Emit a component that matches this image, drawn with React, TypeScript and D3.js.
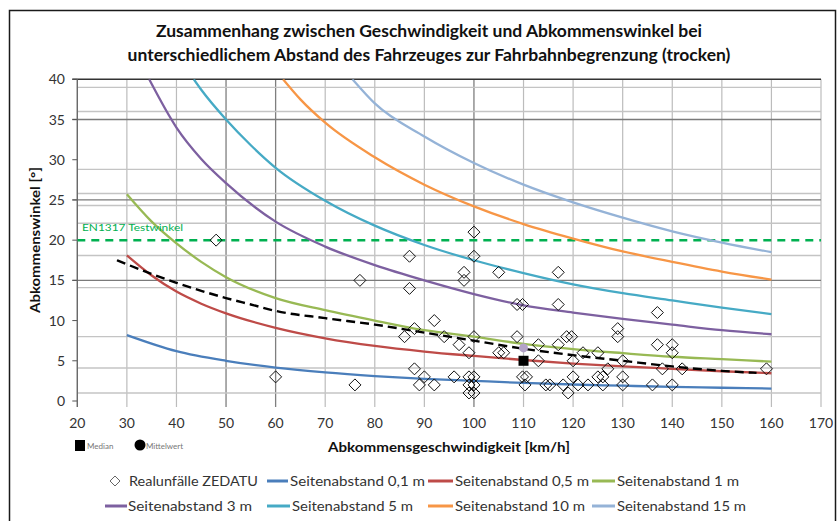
import React from "react";
import * as d3 from "d3";

// ---------- data ----------
const xTicks = [20, 30, 40, 50, 60, 70, 80, 90, 100, 110, 120, 130, 140, 150, 160, 170];
const yTicks = [0, 5, 10, 15, 20, 25, 30, 35, 40];

const hGridMajor = [40, 35, 25, 15];
const hGridMinor = [39, 36, 28.8, 25.8, 24.3, 22.1, 18.1, 14.1, 8, 4.1, 1];
const vGridMajor = [50, 60, 100];

const realunfaelle: [number, number][] = [
  [48, 20], [60, 3], [76, 2], [77, 15], [86, 8], [87, 18], [87, 14], [88, 9], [88, 4], [89, 2],
  [90, 3], [92, 10], [92, 2], [94, 8], [96, 3], [97, 7], [98, 16], [98, 15], [99, 6], [99, 3],
  [99, 2], [99, 1], [100, 21], [100, 18], [100, 8], [100, 3], [100, 2], [100, 1], [105, 16],
  [105, 6], [106, 6], [108.7, 12], [109.8, 12], [108.7, 8], [109.8, 3], [110.6, 3], [110.3, 2],
  [113, 7], [113, 5], [114.5, 2], [115.3, 2], [117, 16], [117, 12], [117, 7], [118, 2], [118.7, 8],
  [119.7, 8], [120, 5], [119, 1], [120, 3], [121, 2], [122, 6], [123, 2], [125, 6], [125, 3],
  [126, 3], [126, 2], [127, 4], [129, 9], [129, 8], [130, 5], [130, 3], [130, 2], [136, 2],
  [137, 11], [137, 7], [138, 4], [140, 7], [140, 6], [140, 2], [142, 4], [159, 4],
];

const median: [number, number] = [110, 5.0];
const mittelwert: [number, number] = [110, 6.6];

const seite01: [number, number][] = [[30, 8.2], [40, 6.2], [50, 5.0], [60, 4.15], [70, 3.55], [80, 3.1], [90, 2.75], [100, 2.5], [110, 2.25], [120, 2.05], [130, 1.9], [140, 1.75], [150, 1.65], [160, 1.55]];
const seite05: [number, number][] = [[30, 18.1], [35, 15.6], [40, 13.6], [45, 12.1], [50, 10.9], [60, 9.1], [70, 7.8], [80, 6.85], [90, 6.15], [100, 5.6], [110, 5.1], [120, 4.65], [130, 4.3], [140, 4.0], [150, 3.7], [160, 3.45]];
const seite1: [number, number][] = [[30, 25.7], [35, 22.3], [40, 19.6], [45, 17.3], [50, 15.4], [60, 12.8], [70, 11.3], [80, 10.0], [90, 8.8], [100, 8.0], [110, 7.1], [120, 6.45], [130, 5.95], [140, 5.5], [150, 5.2], [160, 4.9]];
const seite3: [number, number][] = [[34.5, 40], [40, 34], [45, 30.1], [50, 27.1], [60, 22.3], [70, 19.2], [80, 16.9], [90, 15.0], [100, 13.3], [110, 11.9], [120, 11.0], [130, 10.2], [140, 9.5], [150, 8.8], [160, 8.3]];
const seite5: [number, number][] = [[43.5, 40], [45, 38.7], [50, 35], [55, 31.8], [60, 29.0], [70, 24.9], [80, 21.8], [90, 19.4], [100, 17.5], [110, 15.9], [120, 14.5], [130, 13.4], [140, 12.5], [150, 11.6], [160, 10.8]];
const seite10: [number, number][] = [[61.5, 40], [65, 37.5], [70, 34.6], [80, 30.3], [90, 26.9], [100, 24.2], [110, 22.0], [120, 20.2], [130, 18.6], [140, 17.3], [150, 16.1], [160, 15.1]];
const seite15: [number, number][] = [[75.5, 40], [80, 37.0], [90, 32.9], [100, 29.6], [110, 26.9], [120, 24.7], [130, 22.8], [140, 21.1], [150, 19.7], [160, 18.5]];

const trend: [number, number][] = [[28, 17.5], [30, 17.0], [35, 15.8], [40, 14.7], [45, 13.7], [50, 12.8], [55, 12.0], [60, 11.2], [70, 10.3], [80, 9.5], [90, 8.5], [100, 7.5], [110, 6.5], [120, 5.7], [130, 5.0], [140, 4.3], [150, 3.75], [157, 3.5]];

const testwinkel = 20;

const seriesNames = [
  "Seitenabstand 0,1 m", "Seitenabstand 0,5 m", "Seitenabstand 1 m", "Seitenabstand 3 m",
  "Seitenabstand 5 m", "Seitenabstand 10 m", "Seitenabstand 15 m",
];
const seriesColors = ["#4a7ebb", "#be4b48", "#98b954", "#7d60a0", "#46aac5", "#f79646", "#95b3d7"];
const seriesData = [seite01, seite05, seite1, seite3, seite5, seite10, seite15];

const titleLines = [
  "Zusammenhang zwischen Geschwindigkeit und Abkommenswinkel bei",
  "unterschiedlichem Abstand des Fahrzeuges zur Fahrbahnbegrenzung (trocken)",
];

// ---------- layout ----------
const FONT = "Lato, 'Open Sans', sans-serif";
const x = d3.scaleLinear().domain([20, 170]).range([77.3, 821]);
const y = d3.scaleLinear().domain([0, 40]).range([401, 79.3]);

const line = d3
  .line<[number, number]>()
  .x((d) => x(d[0]))
  .y((d) => y(d[1]))
  .curve(d3.curveMonotoneX);

const diamond = (cx: number, cy: number, r: number) =>
  `M${cx},${cy - r}L${cx + r},${cy}L${cx},${cy + r}L${cx - r},${cy}Z`;

// legend slots: [lineStart, lineEnd, textX, textWidth, rowY]
const legendSlots = [
  [267, 288, 290, 135, 481],
  [428, 453, 455, 134, 481],
  [592, 615, 617, 122, 481],
  [105, 127, 128, 124, 506],
  [267, 290, 292, 121, 506],
  [428, 453, 455, 130, 506],
  [592, 615, 617, 129, 506],
];

export default function App() {
  const [x0, x1] = x.range();
  const [yb, yt] = y.range();
  return (
    <div style={{ position: "absolute", left: 0, top: 0 }}>
      <svg width={837} height={521} style={{ display: "block", background: "#fff" }} fontFamily={FONT}>
        <rect x={0} y={0} width={837} height={521} fill="#fff" />
        <rect x={9.5} y={10.5} width={826} height={530} fill="none" stroke="#1a1a1a" strokeWidth={1.5} />

        {/* title */}
        {titleLines.map((t, i) => (
          <text key={i} x={429} y={37 + i * 24} textAnchor="middle" fontSize={17.5} fontWeight="bold" fill="#111">
            {t}
          </text>
        ))}

        {/* grid */}
        <g>
          {xTicks.map((v) => (
            <line key={"v" + v} x1={x(v)} x2={x(v)} y1={yt} y2={yb + 6}
              stroke={vGridMajor.includes(v) ? "#7f7f7f" : "#bcbcbc"} strokeWidth={vGridMajor.includes(v) ? 1.3 : 1.2} />
          ))}
          {hGridMinor.map((v) => (
            <line key={"hm" + v} x1={x0} x2={x1} y1={y(v)} y2={y(v)} stroke="#c4c4c4" strokeWidth={1.4} />
          ))}
          {hGridMajor.map((v) => (
            <line key={"hM" + v} x1={x0 - 5} x2={x1} y1={y(v)} y2={y(v)} stroke={v === 40 ? "#333" : "#7a7a7a"} strokeWidth={v === 40 ? 1.6 : 1.3} />
          ))}
          {yTicks.map((v) => (
            <line key={"yt" + v} x1={x0 - 5} x2={x0} y1={y(v)} y2={y(v)} stroke="#555" strokeWidth={1} />
          ))}
          <line x1={x0} x2={x0} y1={yt} y2={yb + 6} stroke="#666" strokeWidth={1.3} />
        </g>

        {/* axis labels */}
        {yTicks.map((v) => (
          <text key={"yl" + v} x={65} y={y(v) + 5} textAnchor="end" fontSize={14} fill="#333">{v}</text>
        ))}
        {xTicks.map((v) => (
          <text key={"xl" + v} x={x(v)} y={428} textAnchor="middle" fontSize={14} fill="#333">{v}</text>
        ))}
        <text x={449} y={452} textAnchor="middle" fontSize={13.5} fontWeight="bold" fill="#111" textLength={242} lengthAdjust="spacingAndGlyphs">
          Abkommensgeschwindigkeit [km/h]
        </text>
        <text transform="translate(40,240) rotate(-90)" textAnchor="middle" fontSize={13} fontWeight="bold" fill="#111" textLength={146} lengthAdjust="spacingAndGlyphs">
          Abkommenswinkel [°]
        </text>

        <clipPath id="plot">
          <rect x={x0} y={yt} width={x1 - x0} height={yb - yt + 2} />
        </clipPath>

        <g clipPath="url(#plot)">
          {/* test angle */}
          <line x1={x0} x2={x1} y1={y(testwinkel)} y2={y(testwinkel)} stroke="#00b050" strokeWidth={2.5} strokeDasharray="8,6" />
          {seriesData.map((d, i) => (
            <path key={i} d={line(d) || ""} fill="none" stroke={seriesColors[i]} strokeWidth={2.3} />
          ))}
          <path d={line(trend) || ""} fill="none" stroke="#000" strokeWidth={2.4} strokeDasharray="9,5" />
          {realunfaelle.map((p, i) => (
            <path key={i} d={diamond(x(p[0]), y(p[1]), 6)} fill="none" stroke="#111" strokeWidth={1} />
          ))}
          <circle cx={x(mittelwert[0])} cy={y(mittelwert[1])} r={4.5} fill="#b3a2c7" />
          <rect x={x(median[0]) - 5} y={y(median[1]) - 5} width={10} height={10} fill="#000" />
        </g>
        <text x={82} y={231} fontSize={10} fill="#00b050" textLength={101} lengthAdjust="spacingAndGlyphs">EN1317 Testwinkel</text>

        {/* median/mittelwert key */}
        <rect x={75} y={440} width={10} height={11} fill="#000" />
        <text x={87} y={449} fontSize={8} fill="#777">Median</text>
        <circle cx={140} cy={445} r={5.5} fill="#000" />
        <text x={146} y={449} fontSize={8} fill="#777">Mittelwert</text>

        {/* legend */}
        <path d={diamond(115, 481, 5)} fill="none" stroke="#666" strokeWidth={1} />
        <text x={129} y={486} fontSize={14} fill="#333" textLength={129} lengthAdjust="spacingAndGlyphs">Realunfälle ZEDATU</text>
        {seriesNames.map((n, i) => {
          const [l0, l1, tx, tw, ry] = legendSlots[i];
          return (
            <g key={n}>
              <line x1={l0} x2={l1} y1={ry} y2={ry} stroke={seriesColors[i]} strokeWidth={3} />
              <text x={tx} y={ry + 5} fontSize={14} fill="#333" textLength={tw} lengthAdjust="spacingAndGlyphs">{n}</text>
            </g>
          );
        })}
      </svg>
    </div>
  );
}
